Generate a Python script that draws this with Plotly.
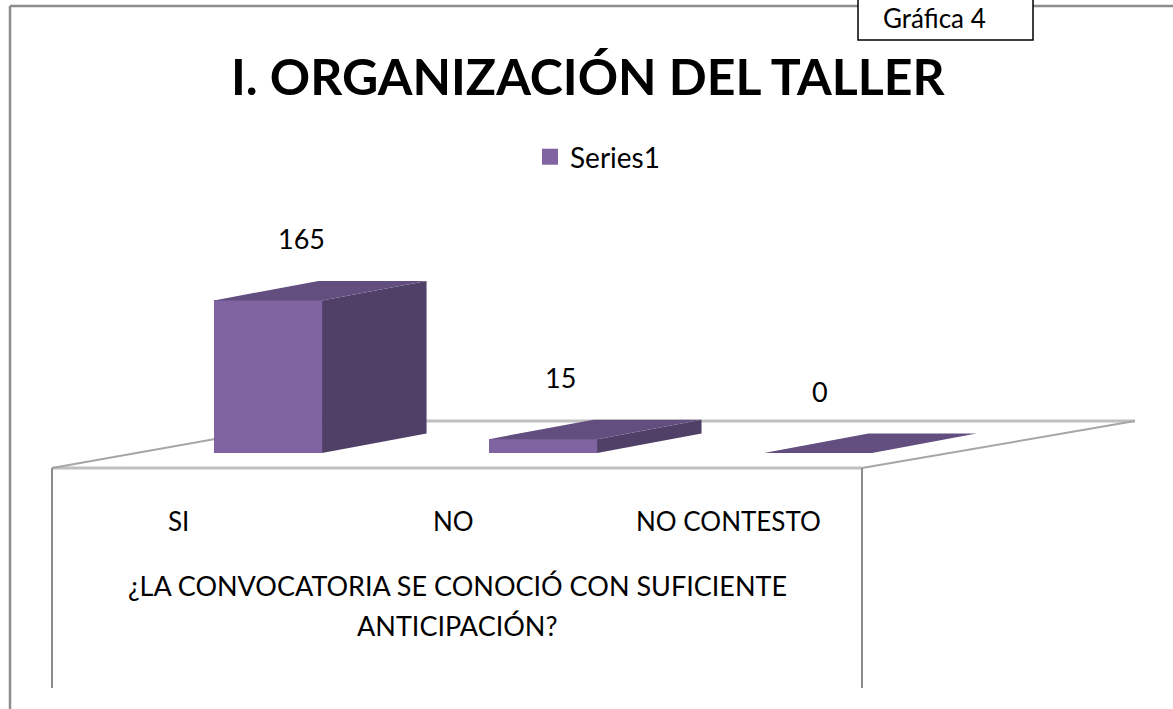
import plotly.graph_objects as go

# ---------------- data ----------------
categories = ["SI", "NO", "NO CONTESTO"]
values = [165, 15, 0]
series_name = "Series1"
title_text = "I. ORGANIZACIÓN DEL TALLER"
axis_title_lines = ["¿LA CONVOCATORIA SE CONOCIÓ CON SUFICIENTE", "ANTICIPACIÓN?"]
badge_text = "Gráfica 4"

# ---------------- geometry / style ----------------
W, H = 1173, 709
PX_PER_CAT = 275.0      # pixels per category unit
PX_PER_VAL = 0.925      # pixels per value unit
X0_PX = 268.0           # pixel x of first category centre
Y0_PX = 453.0           # pixel y of value zero (front of bars)

xmin = -X0_PX / PX_PER_CAT
xmax = xmin + W / PX_PER_CAT
ymin = -(H - Y0_PX) / PX_PER_VAL
ymax = Y0_PX / PX_PER_VAL

def X(px):
    return xmin + px / PX_PER_CAT

def Y(py):
    return (Y0_PX - py) / PX_PER_VAL

BAR_W = 0.393            # front face width (category units)
DX = 0.38                # depth offset x (category units)
DY = 21.0                # depth offset y (value units)

FONT = "Lato"
C_FRONT = "#8064A2"
C_SIDE = "#504068"
C_TOP = "#634E80"

xs = list(range(len(categories)))

fig = go.Figure()

# front faces (real bars)
fig.add_trace(go.Bar(
    x=xs, y=values, width=BAR_W, base=0, name=series_name,
    marker=dict(color=C_FRONT, line=dict(width=0)),
    showlegend=False, hoverinfo="skip",
))

# side and top faces computed from values
side_x, side_y, top_x, top_y = [], [], [], []
for i, v in zip(xs, values):
    l, r = i - BAR_W / 2, i + BAR_W / 2
    if v > 0:
        side_x += [r, r + DX, r + DX, r, r, None]
        side_y += [0, DY, v + DY, v, 0, None]
    top_x += [l, r, r + DX, l + DX, l, None]
    top_y += [v, v, v + DY, v + DY, v, None]

fig.add_trace(go.Scatter(x=side_x, y=side_y, mode="lines", fill="toself",
                         fillcolor=C_SIDE, line=dict(width=0, color=C_SIDE),
                         showlegend=False, hoverinfo="skip"))
fig.add_trace(go.Scatter(x=top_x, y=top_y, mode="lines", fill="toself",
                         fillcolor=C_TOP, line=dict(width=0, color=C_TOP),
                         showlegend=False, hoverinfo="skip"))

# legend entry for the series (square swatch)
fig.add_trace(go.Scatter(x=[None], y=[None], mode="markers", name=series_name,
                         marker=dict(symbol="square", size=18, color=C_FRONT,
                                     line=dict(width=0)),
                         showlegend=True, hoverinfo="skip"))

shapes = []
def dline(x0, y0, x1, y1, color, width):
    shapes.append(dict(type="line", xref="x", yref="y", layer="below",
                       x0=X(x0), y0=Y(y0), x1=X(x1), y1=Y(y1),
                       line=dict(color=color, width=width)))

# floor of the 3-D plot area
dline(316, 421, 1135, 421, "#C0C0C0", 3)     # back edge
dline(52, 468, 862, 468, "#C0C0C0", 3)       # front edge
dline(52, 468, 316, 421, "#A6A6A6", 2)       # left depth edge
dline(862, 468, 1135, 421, "#A6A6A6", 2)     # right depth edge
dline(52, 468, 52, 688, "#8C8C8C", 2)        # category box left
dline(862, 468, 862, 688, "#8C8C8C", 2)      # category box right

# outer chart border (paper)
def pline(x0, y0, x1, y1, color, width, layer="above"):
    shapes.append(dict(type="line", xref="paper", yref="paper", layer=layer,
                       x0=x0 / W, y0=1 - y0 / H, x1=x1 / W, y1=1 - y1 / H,
                       line=dict(color=color, width=width)))

pline(10, 6, W + 5, 6, "#8C8C8C", 2.5)
pline(10, 6, 10, H + 5, "#8C8C8C", 2.5)

# badge box
shapes.append(dict(type="rect", xref="paper", yref="paper", layer="above",
                   x0=858 / W, x1=1033 / W, y0=1 - 40 / H, y1=1 + 5 / H,
                   fillcolor="white", line=dict(color="#000000", width=1.5)))

annotations = []
# title
annotations.append(dict(xref="paper", yref="paper", x=588 / W, y=1 - 76 / H,
                        text="<b>" + title_text + "</b>", showarrow=False,
                        xanchor="center", yanchor="middle",
                        font=dict(family=FONT, size=50, color="#000000")))
# badge text
annotations.append(dict(xref="paper", yref="paper", x=934 / W, y=1 - 18 / H,
                        text=badge_text, showarrow=False,
                        xanchor="center", yanchor="middle",
                        font=dict(family=FONT, size=26, color="#000000")))
# data labels (shifted with a perspective-like correction)
for i, v in zip(xs, values):
    annotations.append(dict(xref="x", yref="y", x=i + 0.12 - 0.057 * i, y=v + 67,
                            text=str(v), showarrow=False,
                            xanchor="center", yanchor="middle",
                            font=dict(family=FONT, size=27, color="#000000")))
# category labels
for i, c in zip(xs, categories):
    annotations.append(dict(xref="x", yref="y", x=i - 0.325, y=Y(521),
                            text=c, showarrow=False,
                            xanchor="center", yanchor="middle",
                            font=dict(family=FONT, size=26, color="#000000")))
# axis title (two lines)
for k, line in enumerate(axis_title_lines):
    annotations.append(dict(xref="x", yref="y", x=X(457), y=Y(585 + 40 * k),
                            text=line, showarrow=False,
                            xanchor="center", yanchor="middle", align="center",
                            font=dict(family=FONT, size=27, color="#000000")))

fig.update_layout(
    width=W, height=H, autosize=False,
    margin=dict(l=0, r=0, t=0, b=0),
    paper_bgcolor="white", plot_bgcolor="white",
    xaxis=dict(range=[xmin, xmax], visible=False, fixedrange=True),
    yaxis=dict(range=[ymin, ymax], visible=False, fixedrange=True),
    shapes=shapes, annotations=annotations,
    showlegend=True,
    legend=dict(orientation="h", x=530 / W, y=1 - 157 / H,
                xanchor="left", yanchor="middle", itemsizing="trace",
                font=dict(family=FONT, size=28, color="#000000"),
                bgcolor="rgba(0,0,0,0)"),
    bargap=0,
)

fig.write_html("out.html", config={"displayModeBar": False},
               post_script="document.body.style.margin='0px';")
